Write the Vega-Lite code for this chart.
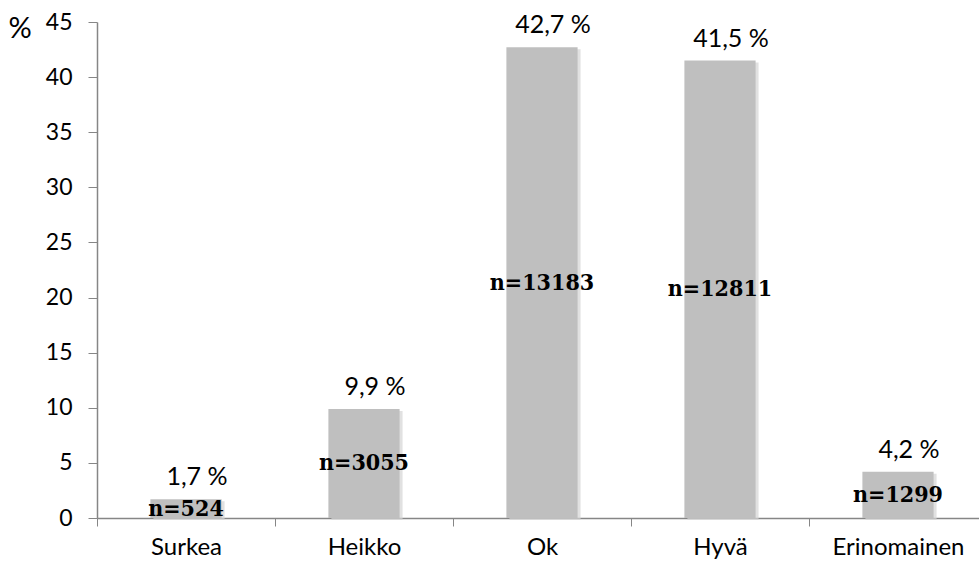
{
  "$schema": "https://vega.github.io/schema/vega-lite/v6.json",
  "width": 890,
  "height": 496,
  "autosize": "none",
  "padding": {"left": 97, "top": 22, "right": 0, "bottom": 46},
  "background": "white",
  "config": {
    "view": {"stroke": null},
    "axis": {"labelFont": "Lato", "labelColor": "#000000", "titleFont": "Lato", "titleColor": "#000000", "domainColor": "#868686", "tickColor": "#868686", "grid": false}
  },
  "data": {
    "values": [
      {"cat": "Surkea", "pct": 1.7, "label": "1,7 %", "n": "n=524"},
      {"cat": "Heikko", "pct": 9.9, "label": "9,9 %", "n": "n=3055"},
      {"cat": "Ok", "pct": 42.7, "label": "42,7 %", "n": "n=13183"},
      {"cat": "Hyvä", "pct": 41.5, "label": "41,5 %", "n": "n=12811"},
      {"cat": "Erinomainen", "pct": 4.2, "label": "4,2 %", "n": "n=1299"}
    ]
  },
  "transform": [{"calculate": "datum.pct / 2", "as": "mid"}],
  "encoding": {
    "x": {
      "field": "cat", "type": "nominal", "sort": null,
      "scale": {"paddingInner": 0, "paddingOuter": 0},
      "axis": {"title": null, "labelAngle": 0, "labelFontSize": 24, "tickBand": "extent", "tickSize": 8, "labelPadding": 9, "domainWidth": 1.5}
    }
  },
  "layer": [
    {
      "mark": {"type": "bar", "width": {"band": 0.4}, "color": "#d4d4d4", "opacity": 0.7, "xOffset": 3, "yOffset": 2},
      "encoding": {"y": {"field": "pct", "type": "quantitative"}}
    },
    {
      "mark": {"type": "bar", "width": {"band": 0.4}, "color": "#BFBFBF"},
      "encoding": {
        "y": {
          "field": "pct", "type": "quantitative",
          "scale": {"domain": [0, 45], "nice": false},
          "axis": {"values": [0, 5, 10, 15, 20, 25, 30, 35, 40, 45], "labelFontSize": 23, "tickSize": 9, "labelPadding": 16, "domainWidth": 1.5, "title": "%", "titleAngle": 0, "titleFontSize": 29, "titleFontWeight": "normal", "titleAlign": "left", "titleBaseline": "middle", "titleX": -89, "titleY": 6}
        }
      }
    },
    {
      "mark": {"type": "text", "font": "Lato", "fontSize": 25, "baseline": "bottom", "dy": -9, "dx": 11, "color": "#000000"},
      "encoding": {"y": {"field": "pct", "type": "quantitative"}, "text": {"field": "label"}}
    },
    {
      "mark": {"type": "text", "font": "DejaVu Serif Condensed", "fontWeight": "bold", "fontSize": 23, "baseline": "middle", "color": "#000000"},
      "encoding": {"y": {"field": "mid", "type": "quantitative"}, "text": {"field": "n"}}
    }
  ]
}
